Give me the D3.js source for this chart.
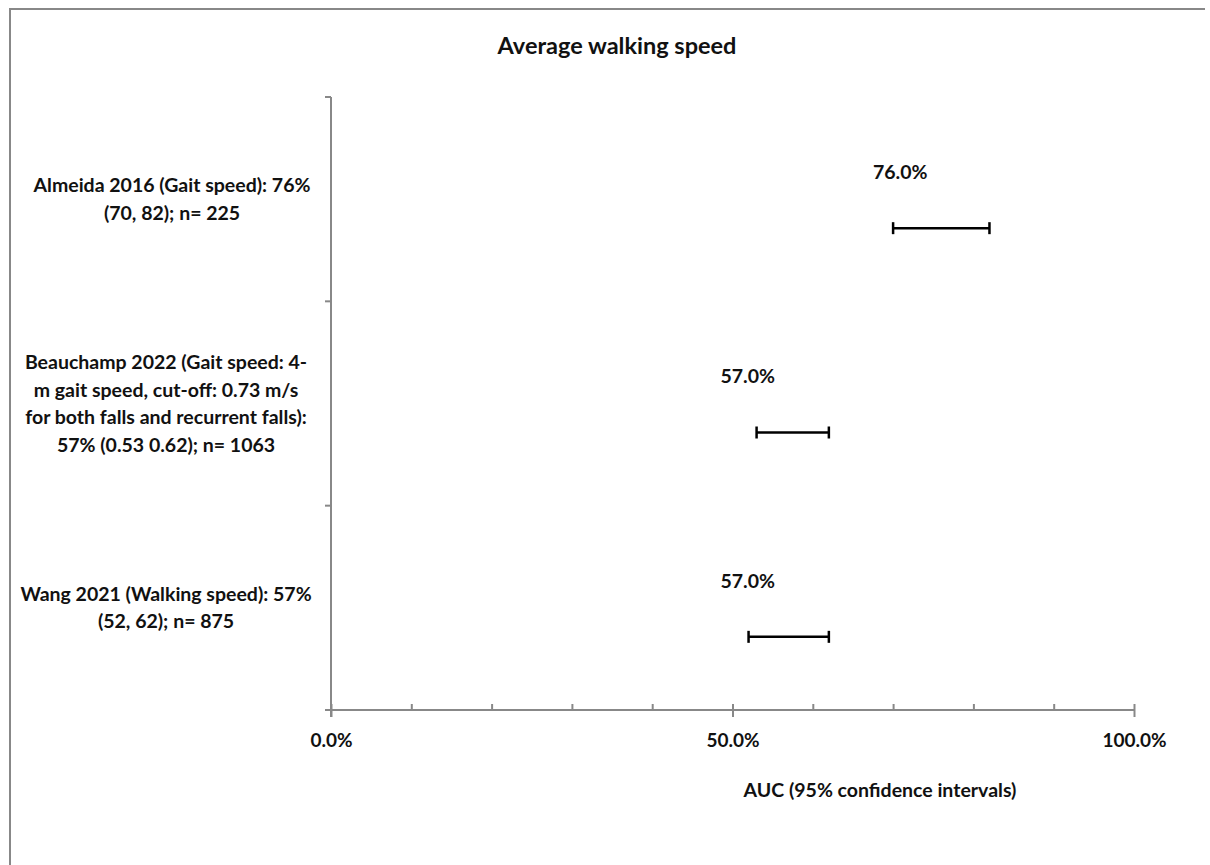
<!DOCTYPE html>
<html>
<head>
<meta charset="utf-8">
<script src="https://cdn.jsdelivr.net/npm/d3@7"></script>
<style>
  html, body { margin: 0; padding: 0; background: #fff; }
  svg { display: block; }
  text { font-family: Lato, "Open Sans", sans-serif; font-weight: bold; fill: #111; }
</style>
</head>
<body>
<svg id="chart" width="1210" height="865"></svg>
<script>
// Studies (top to bottom) with their wrapped axis labels
const studies = ["Almeida 2016", "Beauchamp 2022", "Wang 2021"];
const studyLabels = [
  ["Almeida 2016 (Gait speed): 76%", "(70, 82); n= 225"],
  ["Beauchamp 2022 (Gait speed: 4-", "m gait speed, cut-off: 0.73 m/s", "for both falls and recurrent falls):", "57% (0.53 0.62); n= 1063"],
  ["Wang 2021 (Walking speed): 57%", "(52, 62); n= 875"]
];
// AUC point estimates and 95% confidence limits, in percent
const auc   = [76, 57, 57];
const lower = [70, 53, 52];
const upper = [82, 62, 62];
// Axis ticks
const majorTicks = [0, 50, 100];
const minorTicks = [0, 10, 20, 30, 40, 50, 60, 70, 80, 90, 100];

const svg = d3.select("#chart");
const axisColor = "#888888";

// Outer frame (top and left edges)
svg.append("line").attr("x1", 9).attr("x2", 1205).attr("y1", 9).attr("y2", 9)
  .attr("stroke", axisColor).attr("stroke-width", 2);
svg.append("line").attr("x1", 10).attr("x2", 10).attr("y1", 8).attr("y2", 865)
  .attr("stroke", axisColor).attr("stroke-width", 2);

const plot = { left: 331, right: 1134, top: 97, bottom: 710 };

const x = d3.scaleLinear().domain([0, 100]).range([plot.left, plot.right]);
const y = d3.scaleBand().domain(studies).range([plot.top, plot.bottom]).padding(0);
const yc = s => y(s) + y.bandwidth() / 2;

// Title
svg.append("text")
  .attr("x", 617).attr("y", 46)
  .attr("text-anchor", "middle").attr("dy", "0.35em")
  .style("font-size", "23.5px")
  .text("Average walking speed");

// X axis: minor ticks above the line, major ticks crossing it
const xMinor = svg.append("g").attr("transform", `translate(0,${plot.bottom})`)
  .call(d3.axisTop(x).tickValues(minorTicks).tickSize(6).tickFormat(""));
xMinor.select(".domain").remove();
xMinor.selectAll(".tick line").attr("stroke", axisColor).attr("stroke-width", 2);

const xMajor = svg.append("g").attr("transform", `translate(0,${plot.bottom})`)
  .call(d3.axisBottom(x).tickValues(majorTicks).tickSize(7)
    .tickFormat(d => d.toFixed(1) + "%"));
xMajor.select(".domain").remove();
xMajor.selectAll(".tick line").attr("stroke", axisColor).attr("stroke-width", 2);
xMajor.selectAll(".tick text")
  .attr("fill", "#111").attr("dy", "0.35em").attr("y", 30)
  .style("font-size", "19px").style("font-family", "Lato, sans-serif").style("font-weight", "bold");

svg.append("line")
  .attr("x1", plot.left - 6).attr("x2", plot.right)
  .attr("y1", plot.bottom).attr("y2", plot.bottom)
  .attr("stroke", axisColor).attr("stroke-width", 2);

// Y axis: ticks at category boundaries
const yBounds = studies.map(s => y(s)).concat([plot.bottom]);
svg.append("line")
  .attr("x1", plot.left).attr("x2", plot.left)
  .attr("y1", plot.top).attr("y2", plot.bottom + 7)
  .attr("stroke", axisColor).attr("stroke-width", 2);
svg.append("g").selectAll("line").data(yBounds).join("line")
  .attr("x1", plot.left - 6).attr("x2", plot.left)
  .attr("y1", d => d).attr("y2", d => d)
  .attr("stroke", axisColor).attr("stroke-width", 2);

// Category labels, centred in the left margin
const lineH = 27.5;
studies.forEach((s, i) => {
  const lines = studyLabels[i];
  const t = svg.append("text")
    .attr("text-anchor", "middle")
    .style("font-size", "19.5px");
  lines.forEach((ln, j) => {
    t.append("tspan")
      .attr("x", i === 0 ? 172 : 166)
      .attr("y", yc(s) + (j - (lines.length - 1) / 2) * lineH)
      .attr("dy", "0.35em")
      .text(ln);
  });
});

// Axis title
svg.append("text")
  .attr("x", 880).attr("y", 790)
  .attr("text-anchor", "middle").attr("dy", "0.35em")
  .style("font-size", "19.5px")
  .text("AUC (95% confidence intervals)");

// Confidence interval bars
const capH = 6;
const barY = d => yc(d) + 29;
const bars = svg.append("g").selectAll("g").data(studies).join("g");
bars.append("line")
  .attr("x1", (d, i) => x(lower[i])).attr("x2", (d, i) => x(upper[i]))
  .attr("y1", barY).attr("y2", barY)
  .attr("stroke", "#000").attr("stroke-width", 2.5);
bars.append("line")
  .attr("x1", (d, i) => x(lower[i])).attr("x2", (d, i) => x(lower[i]))
  .attr("y1", d => barY(d) - capH).attr("y2", d => barY(d) + capH)
  .attr("stroke", "#000").attr("stroke-width", 2.5);
bars.append("line")
  .attr("x1", (d, i) => x(upper[i])).attr("x2", (d, i) => x(upper[i]))
  .attr("y1", d => barY(d) - capH).attr("y2", d => barY(d) + capH)
  .attr("stroke", "#000").attr("stroke-width", 2.5);

// Point-estimate labels
bars.append("text")
  .attr("x", (d, i) => x(auc[i]) - 41)
  .attr("y", d => yc(d) - 27)
  .attr("dy", "0.35em")
  .attr("text-anchor", "middle")
  .style("font-size", "19.5px")
  .text((d, i) => auc[i].toFixed(1) + "%");
</script>
</body>
</html>
